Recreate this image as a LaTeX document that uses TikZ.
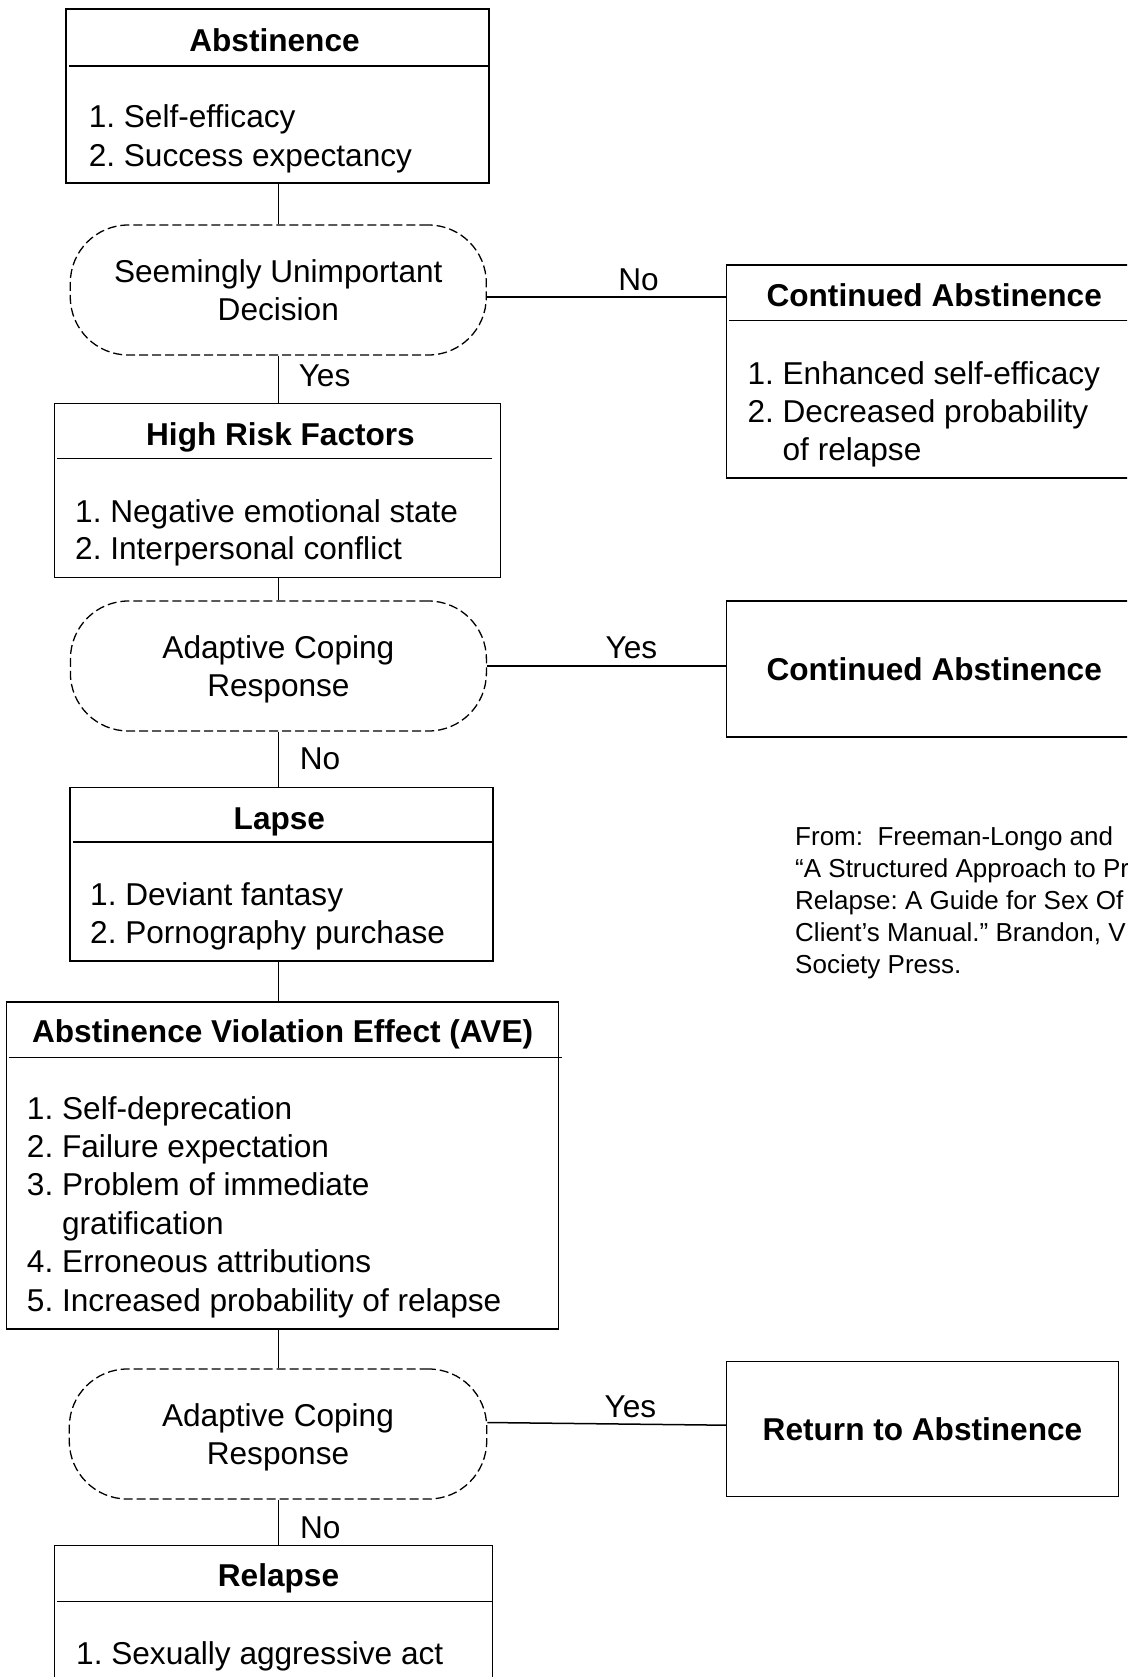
\documentclass[tikz,border=0pt]{standalone}
\usepackage{fontspec}
\setmainfont{Liberation Sans}
\usepackage{tikz}
\usetikzlibrary{positioning}
\frenchspacing
\newcommand{\bodysize}{\fontsize{31.6}{38.4}\selectfont}
\tikzset{
  box/.style={draw, line width=1.5pt, inner sep=0pt},
  decide/.style={draw, line width=1.3pt, dash pattern=on 9pt off 4pt, rounded corners=58pt,
    minimum width=416pt, minimum height=130pt, align=center, text depth=0pt, font=\bodysize},
  title/.style={anchor=base, inner sep=0pt, font=\bodysize\bfseries},
  item/.style={anchor=base west, inner sep=0pt, font=\bodysize},
  lbl/.style={inner sep=0pt, font=\bodysize},
  src/.style={anchor=base west, inner sep=0pt, font=\fontsize{26}{32}\selectfont},
  link/.style={line width=1.5pt}
}

\begin{document}
\begin{tikzpicture}[x=1pt, y=-1pt]
  \useasboundingbox (0,0) rectangle (1127,1677);
  \fill[white] (0,0) rectangle (1127,1677);
  \clip (0,0) rectangle (1127,1677);
  \coordinate (spine) at (278.6,0);

  % main column
  \node[box, minimum width=423pt, minimum height=174pt] (abst) at (277.5,96) {};
  \node[title] (abst-t) at ([xshift=-3pt,yshift=-43pt]abst.north) {Abstinence};
  \draw[link] ([xshift=4pt,yshift=-58pt]abst.north west) -- ([xshift=-1pt,yshift=-58pt]abst.north east);
  \foreach \t [count=\i] in {1. Self-efficacy, 2. Success expectancy}
    \node[item] (abst-\i) at (88.6, {128+39*(\i-1)}) {\t};

  \node[decide] (sud) at (278.3,290) {Seemingly Unimportant\\Decision};

  \node[box, minimum width=446.4pt, minimum height=174pt] (hrf) at (277.5,490.3) {};
  \node[title] (hrf-t) at ([xshift=3pt,yshift=-42.7pt]hrf.north) {High Risk Factors};
  \draw[link] ([xshift=3.6pt,yshift=-55.7pt]hrf.north west) -- ([xshift=-9.7pt,yshift=-55.7pt]hrf.north east);
  \foreach \t [count=\i] in {1. Negative emotional state, 2. Interpersonal conflict}
    \node[item] (hrf-\i) at (75, {522+37*(\i-1)}) {\t};

  \node[decide] (acr1) at (278.4,666) {Adaptive Coping\\Response};

  \node[box, minimum width=422.7pt, minimum height=173.7pt] (lapse) at (281.4,874.2) {};
  \node[title] (lapse-t) at ([xshift=-2pt,yshift=-42.7pt]lapse.north) {Lapse};
  \draw[link] ([xshift=4pt,yshift=-55.4pt]lapse.north west) -- ([xshift=-1.7pt,yshift=-55.4pt]lapse.north east);
  \foreach \t [count=\i] in {1. Deviant fantasy, 2. Pornography purchase}
    \node[item] (lapse-\i) at (90, {905.7+37.6*(\i-1)}) {\t};

  \node[box, minimum width=552.2pt, minimum height=327pt] (ave) at (282.6,1165.5) {};
  \node[title] (ave-t) at ([yshift=-41pt]ave.north) {Abstinence Violation Effect (AVE)};
  \draw[link] ([xshift=3pt,yshift=-56pt]ave.north west) -- ([xshift=2.3pt,yshift=-56pt]ave.north east);
  \foreach \t [count=\i] in {1. Self-deprecation, 2. Failure expectation, 3. Problem of immediate,
      \phantom{3. }gratification, 4. Erroneous attributions, 5. Increased probability of relapse}
    \node[item] (ave-\i) at (26.8, {1119+38.4*(\i-1)}) {\t};

  \node[decide, minimum width=417.4pt] (acr2) at (278,1434) {Adaptive Coping\\Response};

  \node[box, minimum width=438.4pt, minimum height=214pt] (relapse) at (273.5,1652.7) {};
  \node[title] (relapse-t) at ([xshift=5pt,yshift=-41.6pt]relapse.north) {Relapse};
  \draw[link] ([xshift=3.7pt,yshift=-56.6pt]relapse.north west) -- ([xshift=-1pt,yshift=-56.6pt]relapse.north east);
  \node[item] (relapse-1) at (76,1664) {1. Sexually aggressive act};

  % outcomes on the right
  \node[box, minimum width=415.6pt, minimum height=213pt] (cont1) at (934.2,371.5) {};
  \node[title] (cont1-t) at ([yshift=-42pt]cont1.north) {Continued Abstinence};
  \draw[link] ([xshift=3.6pt,yshift=-56pt]cont1.north west) -- ([yshift=-56pt]cont1.north east);
  \foreach \t [count=\i] in {1. Enhanced self-efficacy, 2. Decreased probability, \phantom{2. }of relapse}
    \node[item] (cont1-\i) at (747.3, {384+38*(\i-1)}) {\t};

  \node[box, font=\bodysize\bfseries, minimum width=415.6pt, minimum height=136pt] (cont2) at (934.2,669) {Continued Abstinence};
  \node[box, font=\bodysize\bfseries, minimum width=391.7pt, minimum height=135pt] (ret) at (922.5,1429.2) {Return to Abstinence};

  % source
  \foreach \t [count=\i] in {From:~~Freeman-Longo and, “A Structured Approach to Pr, Relapse: A Guide for Sex Of,
      {Client’s Manual.” Brandon, V}, Society Press.}
    \node[src] (src-\i) at (795, {845+32*(\i-1)}) {\t};

  % connectors
  \draw[link] (spine |- abst.south) -- (spine |- sud.north);
  \draw[link] (spine |- sud.south) -- (spine |- hrf.north) node[lbl, pos=.435, right=19.4pt] (yes-1) {Yes};
  \draw[link] (spine |- hrf.south) -- (spine |- acr1.north);
  \draw[link] (spine |- acr1.south) -- (spine |- lapse.north) node[lbl, pos=.49, right=20.4pt] (no-2) {No};
  \draw[link] (spine |- lapse.south) -- (spine |- ave.north);
  \draw[link] (spine |- ave.south) -- (spine |- acr2.north);
  \draw[link] (spine |- acr2.south) -- (spine |- relapse.north) node[lbl, pos=.61, right=20.7pt] (no-3) {No};

  \coordinate (out-1) at ([yshift=-7pt]sud.east);
  \draw[link] (out-1) -- (out-1 -| cont1.west) node[lbl, pos=.635, above=5.6pt] (no-1) {No};
  \draw[link] (acr1.east) -- (acr1.east -| cont2.west) node[lbl, pos=.605, above=6.5pt] (yes-2) {Yes};
  \coordinate (out-3) at ([yshift=11.5pt]acr2.east);
  \draw[link] (out-3) -- ([yshift=4pt]ret.west) node[lbl, pos=.6, above=6pt] (yes-3) {Yes};
\end{tikzpicture}
\end{document}
